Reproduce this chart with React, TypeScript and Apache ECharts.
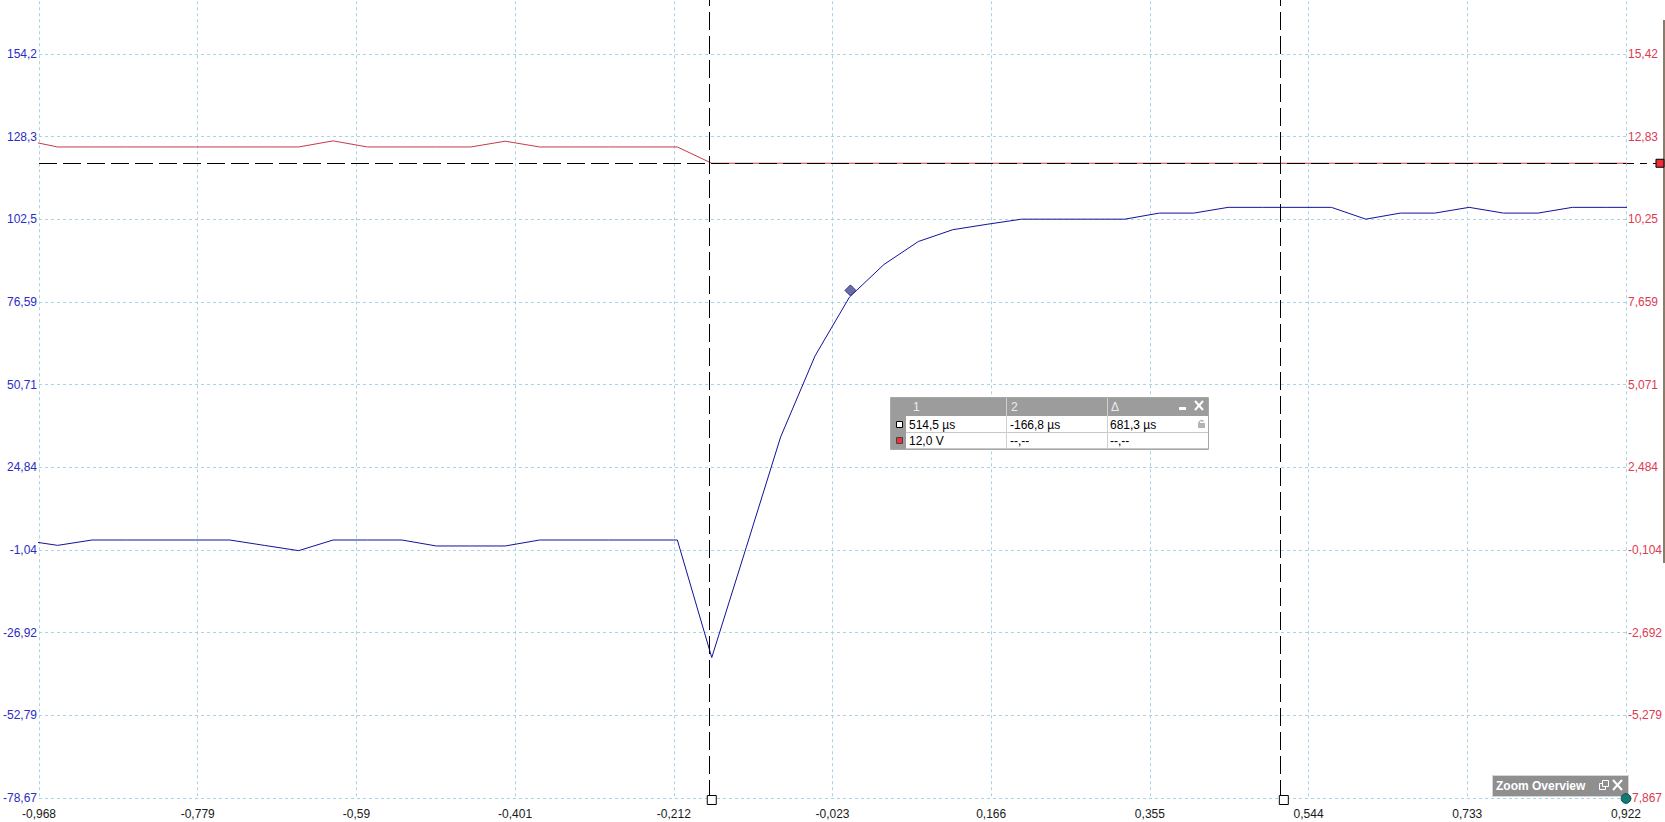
import React, { useEffect, useRef } from 'react';
import * as echarts from 'echarts';

// ---- data (time in ms) ----
const sampleTimesMs = [
  -0.9868, -0.9458, -0.9048, -0.8638, -0.8228, -0.7818, -0.7408, -0.6998, -0.6588, -0.6178,
  -0.5768, -0.5358, -0.4948, -0.4538, -0.4128, -0.3718, -0.3308, -0.2898, -0.2488, -0.2078,
  -0.1668, -0.1258, -0.0848, -0.0438, -0.0028, 0.0382, 0.0792, 0.1202, 0.1612, 0.2022,
  0.2432, 0.2842, 0.3252, 0.3662, 0.4072, 0.4482, 0.4892, 0.5302, 0.5712, 0.6122,
  0.6532, 0.6942, 0.7352, 0.7762, 0.8172, 0.8582, 0.8992, 0.9402,
];
// blue channel, left axis
const channelBlue = [
  2.0, 0.4, 2.08, 2.08, 2.08, 2.08, 2.08, 0.4, -1.25, 2.08,
  2.08, 2.08, 0.21, 0.21, 0.21, 2.08, 2.08, 2.08, 2.08, 2.08,
  -34.7, -0.3, 34.3, 59.7, 78.1, 88.3, 95.5, 99.2, 100.9, 102.5,
  102.5, 102.5, 102.5, 104.4, 104.4, 106.2, 106.2, 106.2, 106.2, 102.5,
  104.4, 104.4, 106.2, 104.4, 104.4, 106.2, 106.2, 106.2,
];
// red channel, right axis (V)
const channelRed = [
  12.73, 12.51, 12.51, 12.51, 12.51, 12.51, 12.51, 12.51, 12.51, 12.70,
  12.51, 12.51, 12.51, 12.51, 12.69, 12.51, 12.51, 12.51, 12.51, 12.51,
  12.0, 12.0, 12.0, 12.0, 12.0, 12.0, 12.0, 12.0, 12.0, 12.0,
  12.0, 12.0, 12.0, 12.0, 12.0, 12.0, 12.0, 12.0, 12.0, 12.0,
  12.0, 12.0, 12.0, 12.0, 12.0, 12.0, 12.0, 12.0,
];

const xTickLabels = ['-0,968', '-0,779', '-0,59', '-0,401', '-0,212', '-0,023', '0,166', '0,355', '0,544', '0,733', '0,922'];
const leftTickLabels = ['-78,67', '-52,79', '-26,92', '-1,04', '24,84', '50,71', '76,59', '102,5', '128,3', '154,2'];
const rightTickLabels = ['-7,867', '-5,279', '-2,692', '-0,104', '2,484', '5,071', '7,659', '10,25', '12,83', '15,42'];

const cursorTimes = [0.5145, -0.1668];
const cursorLevel = 12.0;
const probePoint = [-0.0016, 80.2];

const readoutHeader = ['1', '2', 'Δ'];
const readoutRow1 = ['514,5 µs', '-166,8 µs', '681,3 µs'];
const readoutRow2 = ['12,0 V', '--,--', '--,--'];
const overviewTitle = 'Zoom Overview';

// axis ranges
const X_MIN = -0.968, X_STEP = 0.189, X_MAX = 0.922;
const L_MIN = -78.67, L_STEP = 25.875, L_MAX = 180.08;
const R_MIN = -7.867, R_STEP = 2.5875, R_MAX = 18.008;

const FONT = '"Liberation Sans", Arial, sans-serif';
const GRID_COLOR = '#a9d3e4';
const OY = 29; // chart canvas starts this many px above the page top

const fmt = (labels: string[], min: number, step: number) => (v: number) => {
  const i = Math.round((v - min) / step);
  return labels[i] ?? '';
};

export default function App() {
  const ref = useRef<HTMLDivElement>(null);
  useEffect(() => {
    if (!ref.current) return;
    const chart = echarts.init(ref.current, undefined, { renderer: 'svg' });
    const dashed = { color: '#000', width: 1, type: [18, 6] as any };
    const option: any = {
      animation: false,
      backgroundColor: '#ffffff',
      grid: { left: 35, right: 38, top: 0.3, bottom: 24, containLabel: false },
      xAxis: {
        type: 'value', min: X_MIN, max: X_MAX, interval: X_STEP,
        axisLine: { show: false }, axisTick: { show: false },
        splitLine: { show: true, lineStyle: { color: GRID_COLOR, width: 1, type: [3, 3] } },
        axisLabel: { formatter: fmt(xTickLabels, X_MIN, X_STEP), color: '#1a1a1a', fontSize: 12, fontFamily: FONT, margin: 10 },
      },
      yAxis: [
        {
          type: 'value', position: 'left', min: L_MIN, max: L_MAX, interval: L_STEP,
          axisLine: { show: false }, axisTick: { show: false },
          splitLine: { show: true, lineStyle: { color: GRID_COLOR, width: 1, type: [3, 3] } },
          axisLabel: { formatter: fmt(leftTickLabels, L_MIN, L_STEP), color: '#2b2bc6', fontSize: 12, fontFamily: FONT, margin: 2 },
        },
        {
          type: 'value', position: 'right', min: R_MIN, max: R_MAX, interval: R_STEP,
          axisLine: { show: false }, axisTick: { show: false }, splitLine: { show: false },
          axisLabel: { formatter: fmt(rightTickLabels, R_MIN, R_STEP), color: '#de3a52', fontSize: 12, fontFamily: FONT, margin: 2 },
        },
      ],
      series: [
        {
          name: 'A', type: 'line', yAxisIndex: 0, symbol: 'none', z: 2,
          data: sampleTimesMs.map((t, i) => [t, channelBlue[i]]),
          lineStyle: { color: '#12129a', width: 1 }, itemStyle: { color: '#12129a' },
          markPoint: {
            silent: true, label: { show: false },
            data: [{
              coord: probePoint, symbol: 'diamond', symbolSize: [11, 11],
              itemStyle: { color: '#6a6ea8', borderColor: '#2f337a', borderWidth: 1 },
            }],
          },
        },
        {
          name: 'B', type: 'line', yAxisIndex: 1, symbol: 'none', z: 3,
          data: sampleTimesMs.map((t, i) => [t, channelRed[i]]),
          lineStyle: { color: '#c63a4a', width: 1 }, itemStyle: { color: '#c63a4a' },
          markLine: {
            silent: true, symbol: ['none', 'none'], label: { show: false }, z: 6,
            lineStyle: dashed,
            data: [
              { xAxis: cursorTimes[0], lineStyle: dashed },
              { xAxis: cursorTimes[1], lineStyle: dashed },
              { yAxis: cursorLevel, lineStyle: dashed },
            ],
          },
          markPoint: {
            silent: true, label: { show: false }, z: 7,
            data: [
              { coord: [cursorTimes[0], R_MIN], symbol: 'rect', symbolSize: 9, symbolOffset: [0, 2], itemStyle: { color: '#fff', borderColor: '#000', borderWidth: 1 } },
              { coord: [cursorTimes[1], R_MIN], symbol: 'rect', symbolSize: 9, symbolOffset: [0, 2], itemStyle: { color: '#fff', borderColor: '#000', borderWidth: 1 } },
              { coord: [X_MAX, cursorLevel], symbol: 'rect', symbolSize: 8, symbolOffset: [34, 0], itemStyle: { color: '#ee2d38', borderColor: '#000', borderWidth: 1 } },
            ],
          },
        },
      ],
    };
    chart.setOption(option);

    const yLevel = chart.convertToPixel({ yAxisIndex: 1 }, cursorLevel) as number;
    const xEnd = chart.convertToPixel({ xAxisIndex: 0 }, X_MAX) as number;
    const yBottom = chart.convertToPixel({ yAxisIndex: 0 }, L_MIN) as number;

    const txt = (x: number, y: number, text: string, fill: string, font: string) => ({
      type: 'text', x, y: y + OY, silent: true,
      style: { text, fill, font, align: 'left', textAlign: 'left', verticalAlign: 'middle', textVerticalAlign: 'middle' },
    });
    const ln = (x1: number, y1: number, x2: number, y2: number, stroke: string, lineWidth = 1, extra: any = {}) => ({
      type: 'line', silent: true, shape: { x1, y1: y1 + OY, x2, y2: y2 + OY }, style: { stroke, lineWidth, ...extra },
    });
    const rc = (x: number, y: number, width: number, height: number, style: any) => ({
      type: 'rect', silent: true, shape: { x, y: y + OY, width, height }, style,
    });

    // readout table
    const tx = 890, ty = 397;
    const cols = [tx + 16, 1006, 1107, tx + 318];
    const table: any[] = [
      rc(tx + 0.5, ty + 0.5, 318, 52, { fill: '#fff', stroke: '#a8a8a8', lineWidth: 1 }),
      rc(tx + 1, ty + 1, 317, 18, { fill: '#9c9c9c' }),
      rc(tx + 1, ty + 19, 15, 33, { fill: '#9c9c9c' }),
      ln(cols[0], ty + 35.5, cols[3], ty + 35.5, '#c8c8c8'),
      ln(cols[0], ty + 51.5, cols[3], ty + 51.5, '#c8c8c8'),
      ln(cols[1] + 0.5, ty + 1, cols[1] + 0.5, ty + 52, '#d0d0d0'),
      ln(cols[2] + 0.5, ty + 1, cols[2] + 0.5, ty + 52, '#d0d0d0'),
      txt(cols[0] + 7, ty + 10, readoutHeader[0], '#ececec', `12px ${FONT}`),
      txt(cols[1] + 5, ty + 10, readoutHeader[1], '#ececec', `12px ${FONT}`),
      txt(cols[2] + 4, ty + 10, readoutHeader[2], '#ececec', `12px ${FONT}`),
      rc(1179, ty + 10, 7, 3, { fill: '#fff' }),
      ln(1195, ty + 4, 1203, ty + 13, '#fff', 2),
      ln(1203, ty + 4, 1195, ty + 13, '#fff', 2),
      rc(tx + 6.5, ty + 24.5, 6, 6, { fill: '#fff', stroke: '#000', lineWidth: 1 }),
      rc(tx + 6.5, ty + 40.5, 6, 6, { fill: '#e8323c', stroke: '#444', lineWidth: 1 }),
      txt(cols[0] + 3, ty + 28, readoutRow1[0], '#000', `12px ${FONT}`),
      txt(cols[1] + 4, ty + 28, readoutRow1[1], '#000', `12px ${FONT}`),
      txt(cols[2] + 3, ty + 28, readoutRow1[2], '#000', `12px ${FONT}`),
      txt(cols[0] + 3, ty + 44, readoutRow2[0], '#000', `12px ${FONT}`),
      txt(cols[1] + 4, ty + 44, readoutRow2[1], '#000', `12px ${FONT}`),
      txt(cols[2] + 3, ty + 44, readoutRow2[2], '#000', `12px ${FONT}`),
      // lock icon
      rc(1198, ty + 26, 7, 5, { fill: '#b4b4b4' }),
      { type: 'arc', silent: true, shape: { cx: 1201.5, cy: ty + 26 + OY, r: 2.5, startAngle: Math.PI, endAngle: Math.PI * 1.8 }, style: { stroke: '#b4b4b4', lineWidth: 1.5, fill: 'none' } },
    ];

    // zoom overview box
    const zx = 1492, zy = 775;
    const zoomBox: any[] = [
      rc(zx + 0.5, zy + 0.5, 136, 21, { fill: '#8f8f8f', stroke: '#d6d6d6', lineWidth: 1 }),
      txt(zx + 4, zy + 11, overviewTitle, '#ffffff', `bold 12px ${FONT}`),
      rc(1599.5, zy + 8.5, 6, 6, { fill: 'none', stroke: '#fff', lineWidth: 1 }),
      rc(1602.5, zy + 5.5, 6, 6, { fill: '#8f8f8f', stroke: '#fff', lineWidth: 1 }),
      ln(1613, zy + 5, 1622, zy + 15, '#fff', 2),
      ln(1622, zy + 5, 1613, zy + 15, '#fff', 2),
    ];

    const extras: any[] = [
      ln(xEnd + 1, Math.round(yLevel) + 0.5 - OY, 1657, Math.round(yLevel) + 0.5 - OY, '#000', 1, { lineDash: [7, 6] }),
      ln(1664, 20, 1664, 563, '#8c7b6b', 2),
    ];

    chart.setOption({
      graphic: [...table, ...zoomBox, ...extras,
        {
          type: 'circle', silent: true, z: 100,
          shape: { cx: xEnd, cy: yBottom + 0.5, r: 4.8 },
          style: { fill: '#137a78', stroke: '#0b4644', lineWidth: 1 },
        }],
    });

    return () => chart.dispose();
  }, []);
  return <div ref={ref} style={{ position: 'fixed', left: 0, top: -OY, width: 1665, height: 822 + OY }} />;
}
